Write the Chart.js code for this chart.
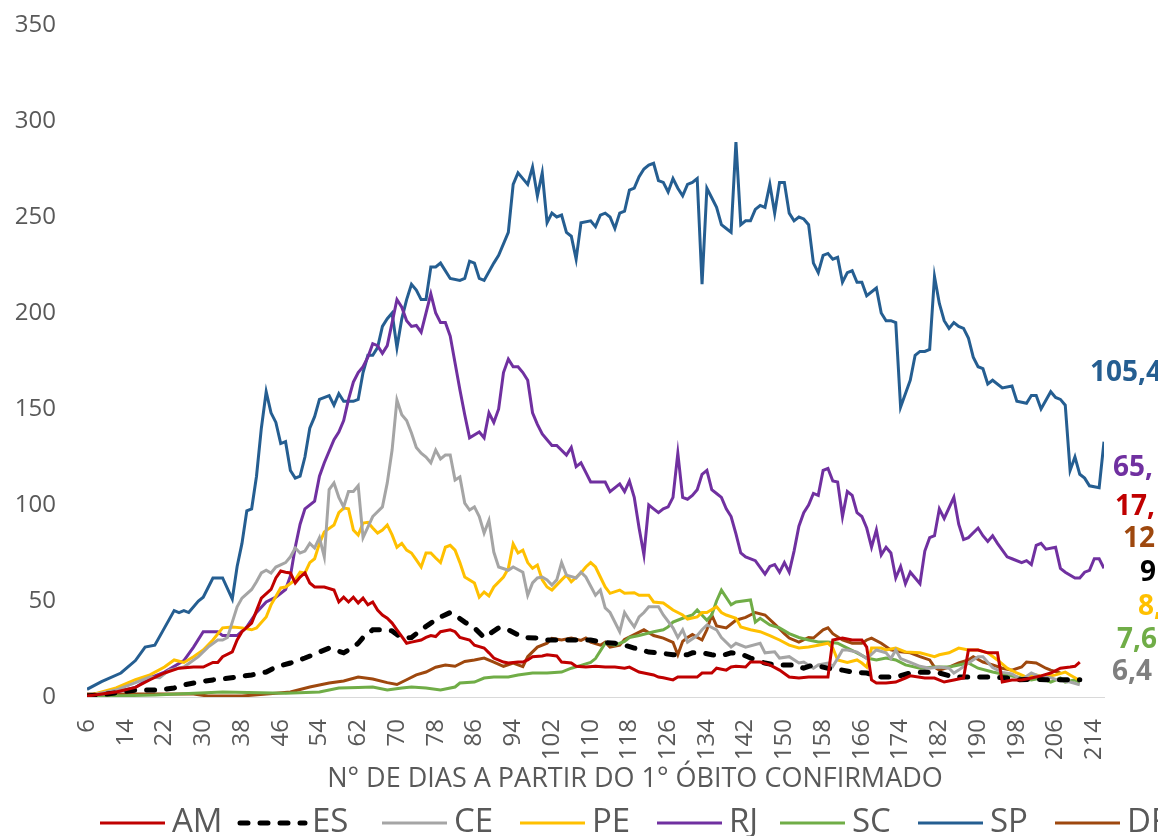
<!DOCTYPE html>
<html>
<head>
  <title>Óbitos por dia - estados</title>
  <script src="https://cdn.jsdelivr.net/npm/chart.js"></script>
  <style>
    body { margin: 0; background: #fff; }
    #wrap { width: 1158px; height: 836px; }
  </style>
</head>
<body>
<div id="wrap"><canvas id="chart"></canvas></div>
<script>
// dias com rótulo no eixo x
var xTicks = [6,14,22,30,38,46,54,62,70,78,86,94,102,110,118,126,134,142,150,158,166,174,182,190,198,206,214];
var xTitle = "N° DE DIAS A PARTIR DO 1° ÓBITO CONFIRMADO";

// [dia, óbitos] por estado
var am = [[6,0.5],[12,2.6],[16,5],[19,9],[22,12.5],[25,15],[28,15.6],[30,15.6],[32,18],[33,18],[34,21],[36,23.5],[37,29.7],[38,34],[40,38.5],[41,45],[42,51.5],[44,56],[45,62],[46,65.6],[47,65],[48,64.6],[49,59.4],[50,62.5],[51,64.6],[52,59.4],[53,57.3],[55,57.3],[57,55.7],[58,49.5],[59,52],[60,49.5],[61,52],[62,49],[63,51.5],[64,48],[65,49.5],[66,45.3],[67,42.7],[68,41],[69,38.5],[70,35],[72,28],[73,28.6],[75,29.7],[76,31],[77,32],[78,31.5],[79,34],[81,35],[82,34],[83,31],[85,29.7],[86,27],[88,25.5],[89,23],[90,20.3],[92,18.2],[93,17.7],[95,18.2],[96,18.2],[97,19.3],[98,21],[100,21.4],[101,22],[103,21.4],[104,18.2],[106,17.7],[107,16],[109,15.6],[111,16],[113,15.6],[115,15.6],[117,15],[118,15.6],[120,13],[121,12.5],[123,11.5],[124,10.4],[125,10],[127,8.9],[128,10.4],[130,10.4],[132,10.4],[133,12.5],[135,12.5],[136,15],[138,14],[139,15.6],[140,16],[142,15.6],[143,18.2],[145,18.2],[147,16.7],[149,14],[151,10.4],[153,9.9],[155,10.4],[157,10.4],[159,10.4],[160,29.7],[162,30.7],[164,29.7],[166,29.7],[167,26],[168,8.9],[169,7.3],[171,7.3],[173,7.8],[175,9.9],[176,11],[179,9.9],[181,9.9],[183,7.8],[185,8.9],[187,9.9],[188,24.5],[190,24.5],[192,23],[194,23],[195,7.8],[197,8.9],[199,8.9],[201,9.9],[203,11],[205,12.5],[207,15],[209,15.6],[210,16],[211,18.2]];
var es = [[6,0.5],[10,1.5],[16,3.6],[21,3.6],[24,4.7],[26,6.3],[29,7.8],[32,8.9],[34,9.4],[37,10.4],[40,11.5],[43,13],[45,15.6],[48,17.7],[51,20.3],[54,23.4],[56,25.5],[59,23],[60,24.5],[61,26],[62,28],[63,31],[64,33],[65,35],[67,35],[69,34.4],[71,30.7],[73,31],[75,35],[77,38.5],[79,41.7],[81,44],[82,42.7],[84,39],[86,36],[88,31],[91,36],[93,35],[96,31],[99,30.7],[101,29.7],[104,29.7],[107,29.7],[110,29.7],[112,28.6],[115,28],[117,27],[119,25.5],[122,23.4],[124,23],[127,22],[130,22],[131,23],[133,23],[135,22],[137,21.5],[139,23],[141,22.5],[143,20.3],[144,19.3],[146,17.7],[148,16.7],[150,16.7],[152,16.7],[154,15],[156,16.7],[159,15],[162,14],[164,13],[167,12.5],[170,10.4],[173,10.4],[176,12.5],[179,13],[182,12.5],[185,10.4],[188,10.4],[190,10.4],[193,10.4],[196,9.9],[198,8.9],[201,9.2],[204,9],[208,9],[211,9]];
var ce = [[6,0.5],[12,3.6],[19,10.4],[21,10],[23,14],[26,15.6],[29,21],[31,26],[33,29.7],[34,29.7],[35,31],[36,39],[37,47],[38,51.5],[40,56],[41,60],[42,64.6],[43,66],[44,64.6],[45,67.7],[47,70],[48,73],[49,77.6],[50,75],[51,76],[52,80],[53,77.6],[54,83],[55,73],[56,108],[57,111.5],[58,104],[59,99],[60,107],[61,107],[62,110],[63,83],[64,88.5],[65,94],[67,99],[68,111.5],[69,128.6],[70,154.7],[71,147],[72,144],[73,137.5],[74,130],[75,127],[76,125],[77,122],[78,128.6],[79,124],[80,126],[81,126],[82,113],[83,114.6],[84,101],[85,97.4],[86,99],[87,94],[88,85.4],[89,92],[90,75.5],[91,67.7],[93,66],[94,67.7],[96,65],[97,53],[98,59.4],[99,62],[100,62.5],[101,61],[102,58.3],[103,61],[104,70],[105,63.5],[107,62],[108,65],[109,62.5],[111,53],[112,55.7],[113,46.4],[114,44],[116,34],[117,44],[118,40],[119,36.5],[120,41.7],[121,44],[122,47],[124,47],[125,42.7],[127,36],[128,31],[129,35],[130,28.6],[132,32],[133,35],[134,37.5],[136,35],[137,31],[139,26],[140,28],[142,26],[145,28],[146,23],[148,23.5],[149,20.3],[151,21],[153,17.7],[154,18.2],[156,15],[157,16.7],[159,17.7],[160,16],[161,20],[162,24.5],[163,24.5],[165,23.4],[167,20],[169,24.5],[171,23],[172,20],[173,24.5],[174,20],[176,18],[178,16],[180,15],[182,15.6],[184,15],[185,12.5],[186,14],[188,17.7],[190,21],[191,21],[193,15.3],[195,12.8],[197,12],[199,9],[201,12.5],[203,10.4],[205,10],[207,8.4],[209,7.8],[211,6.4]];
var pe = [[6,0.5],[12,4.7],[16,9],[19,11.5],[22,15.6],[24,19.3],[26,18],[28,21],[30,24.5],[32,29.7],[34,36],[36,36.5],[38,36],[40,35],[41,36],[43,41.7],[44,48],[46,56.8],[47,57.3],[49,61],[50,65],[51,64.6],[52,70],[53,72],[54,80],[55,86],[57,89.6],[58,96],[59,98.4],[60,98],[61,87],[62,84.4],[63,90.6],[64,91],[65,88],[66,85.4],[67,87],[68,89.6],[69,84.4],[70,78],[71,80],[72,76.5],[73,75],[74,71.4],[75,67.7],[76,75],[77,75],[78,72.4],[79,70],[80,78],[81,79],[82,76.5],[83,70],[84,62.5],[86,59.4],[87,52],[88,54.7],[89,52.6],[90,57.3],[92,62.5],[93,67],[94,79.7],[95,75],[96,76.5],[97,70],[98,67],[99,68.7],[100,61],[101,57.3],[102,55.7],[104,61],[105,63.5],[106,60],[108,64.6],[109,67.7],[110,70],[111,67.7],[112,62.5],[113,57.3],[114,54],[116,55.7],[117,54],[119,54.3],[120,53],[122,53],[123,49.5],[125,49],[127,45.3],[129,42.7],[130,40.6],[132,41.7],[133,44],[134,44],[136,47],[137,44],[138,42.7],[140,41],[141,36.5],[143,35],[145,34],[147,32],[149,29.7],[151,27],[153,25.5],[155,26],[157,27],[159,28],[160,25.5],[161,19.3],[163,18],[165,19.3],[166,17.7],[167,15.6],[168,25.5],[170,25.5],[171,24.5],[173,25.5],[175,23.5],[178,23],[181,21],[182,22],[184,23],[186,25.5],[188,24.5],[190,24.5],[192,23],[194,19.3],[196,15],[198,12.5],[200,10.4],[202,11.5],[204,10.4],[206,11.5],[208,13],[209,11.5],[211,8.6]];
var rj = [[6,0.5],[9,1.5],[12,2.6],[16,5],[19,10],[22,13],[26,19],[28,26],[30,34],[33,34],[34,32],[37,32],[39,36.5],[41,44],[43,49.5],[45,52],[47,56],[48,63],[49,78],[50,90],[51,98],[53,102],[54,115],[55,122],[57,134],[58,138],[59,144],[60,155],[61,164],[62,169],[63,172],[64,177],[65,184],[66,183],[67,179],[68,183],[69,195],[70,207],[71,203],[72,196],[73,193],[74,193.5],[75,190],[77,210],[78,200],[79,195],[80,195],[81,188],[82,174],[83,160],[84,147],[85,135],[87,138],[88,135],[89,148],[90,143],[91,150],[92,169],[93,176],[94,172],[95,172],[96,169],[97,165],[98,148],[99,142],[100,137],[101,134],[102,131],[103,131],[105,126],[106,130],[107,120],[108,122],[109,117],[110,112],[112,112],[113,112],[114,107],[116,111],[117,107],[118,112.5],[119,104],[120,88],[121,74],[122,100],[123,98],[124,96],[125,98],[126,99],[127,104],[128,127],[129,104],[130,103],[131,105],[132,108],[133,116],[134,118],[135,108],[136,106],[137,104],[138,98],[139,94],[140,85],[141,75],[142,73],[144,71],[146,64],[147,68],[148,69],[149,65],[150,70],[151,65],[152,76],[153,89],[154,96],[155,100],[156,106],[157,105],[158,118],[159,119],[160,112.5],[161,112],[162,94],[163,107],[164,105],[165,96],[166,94],[167,88],[168,78],[169,87],[170,74],[171,78],[172,75],[173,62],[174,68],[175,59],[176,65],[178,59],[179,76],[180,83],[181,84],[182,98],[183,93],[185,104],[186,90],[187,82],[188,83],[190,88],[191,84],[192,81],[193,84],[194,80],[196,73],[197,72],[199,70],[200,71],[201,69],[202,79],[203,80],[204,77],[206,78],[207,67],[208,65],[210,62],[211,62],[212,65],[213,66],[214,72],[215,72],[216,67]];
var sc = [[6,0.3],[20,1],[34,2.6],[47,2],[54,2.6],[58,4.7],[62,5],[65,5.2],[68,3.6],[71,4.7],[73,5.2],[76,4.7],[79,3.6],[82,5.2],[83,7.3],[86,7.8],[88,9.9],[90,10.4],[93,10.4],[95,11.5],[98,12.5],[101,12.5],[104,13],[106,15],[108,16.5],[110,18],[111,20],[112,24],[113,28],[115,27],[117,29],[118,31],[120,32],[123,34],[125,35],[126,36.5],[127,39],[129,41],[131,42.7],[132,45.3],[134,40],[135,42.7],[136,50],[137,55.7],[139,48],[140,49.5],[143,50.5],[144,39],[145,41],[147,37.5],[149,36],[151,33],[153,31],[155,29.7],[157,28.6],[159,28.6],[161,28],[163,25.5],[165,23],[167,20.3],[169,19.3],[171,20.3],[173,19.3],[175,16.7],[178,15],[181,15.6],[184,15.6],[186,16.7],[188,17.7],[190,15],[193,13],[196,11.5],[199,9.9],[201,8.9],[203,9.9],[205,7.8],[207,9.9],[208,7.8],[210,8.9],[211,7.6]];
var sp = [[6,4],[9,8],[13,12.5],[16,19],[18,26],[20,27],[22,36],[24,45],[25,44],[26,45],[27,44],[29,50],[30,52],[32,62],[34,62],[36,51],[37,68],[38,80],[39,97],[40,98],[41,115],[42,140],[43,159],[44,148],[45,143],[46,132],[47,133],[48,118],[49,114],[50,115],[51,125],[52,140],[53,146],[54,155],[56,157],[57,152],[58,158],[59,154],[61,154],[62,155],[63,169],[64,178],[65,178],[66,182],[67,193],[68,197],[69,200],[70,182],[71,197],[72,207],[73,215],[74,212],[75,207],[76,207],[77,224],[78,224],[79,226],[81,218],[83,217],[84,218],[85,227],[86,226],[87,218],[88,217],[90,226],[91,230],[93,242],[94,267],[95,273],[96,270],[97,267],[98,276],[99,261],[100,273],[101,247],[102,252],[103,250],[104,251],[105,242],[106,240],[107,228],[108,247],[110,248],[111,245],[112,251],[113,252],[114,250],[115,244],[116,252],[117,253],[118,264],[119,265],[120,271],[121,275],[122,277],[123,278],[124,269],[125,268],[126,263],[127,270],[128,265],[129,261],[130,267],[131,268],[132,270],[133,215],[134,265],[135,260],[136,255],[137,246],[138,244],[139,242],[140,289],[141,246],[142,248],[143,248],[144,254],[145,256],[146,255],[147,267],[148,252],[149,268],[150,268],[151,252],[152,248],[153,250],[154,249],[155,246],[156,226],[157,221],[158,230],[159,231],[160,228],[161,229],[162,216],[163,221],[164,222],[165,216],[166,216],[167,209],[169,213],[170,200],[171,196],[172,196],[173,195],[174,151],[176,165],[177,178],[178,180],[179,180],[180,181],[181,219],[182,205],[183,196],[184,192],[185,195],[186,193],[187,192],[188,187],[189,177],[190,172],[191,171],[192,163],[193,165],[195,161],[197,162],[198,154],[200,153],[201,157],[202,157],[203,150],[205,159],[206,156],[207,155],[208,152],[209,118],[210,125],[211,116],[212,114],[213,110],[215,109],[216,133]];
var df = [[6,1.5],[20,1.5],[28,1.5],[31,0.5],[38,0.5],[45,2],[48,2.6],[52,5.2],[56,7.3],[59,8.3],[62,10.4],[65,9.4],[68,7.5],[70,6.5],[72,9],[74,11.5],[76,13],[78,15.5],[80,16.7],[82,16],[84,18.5],[86,19.3],[88,20.3],[90,18.2],[92,16],[94,17.7],[96,15.8],[97,21],[99,26],[101,28],[102,30.5],[104,29.7],[106,30.7],[108,29.5],[109,30.7],[110,28.6],[112,27],[113,28.6],[114,26],[116,27],[117,30],[119,32.5],[121,35],[123,32],[125,30.7],[127,28.5],[128,22],[129,29],[130,31],[131,32.5],[133,29.7],[134,35],[135,42.7],[136,37],[138,36],[140,40],[142,41.5],[144,44],[146,42.7],[148,38],[150,33],[151,30.7],[153,28.6],[155,31],[156,30.7],[158,35],[159,36],[160,33],[162,29.7],[164,28],[166,28],[167,29.7],[168,30.7],[170,28],[172,24.5],[174,23.5],[176,23],[178,21],[180,19.3],[181,15.6],[182,14],[184,15.6],[186,17.7],[188,19.3],[189,21],[191,18.2],[193,16.7],[195,15],[197,14],[199,15.6],[200,18.2],[202,17.7],[204,15],[205,14],[207,12.5]];

// rótulos finais (cortados na borda direita)
var endLabels = ["17,", "9", "6,4", "8,", "65,", "7,6", "105,4", "12"];

function pts(s) {
  return s.map(function(p) { return { x: p[0], y: p[1] }; });
}

function serie(nome, s, cor, extra) {
  var ds = {
    label: nome,
    data: pts(s),
    borderColor: cor,
    backgroundColor: cor,
    borderWidth: 3,
    pointRadius: 0,
    tension: 0,
    fill: false
  };
  for (var k in extra) ds[k] = extra[k];
  return ds;
}

var datasets = [
  serie("AM", am, "#C00000"),
  serie("ES", es, "#000000", { borderWidth: 5, borderDash: [8, 12], borderCapStyle: "round" }),
  serie("CE", ce, "#A5A5A5"),
  serie("PE", pe, "#FFC000"),
  serie("RJ", rj, "#7030A0"),
  serie("SC", sc, "#70AD47"),
  serie("SP", sp, "#255E91"),
  serie("DF", df, "#9E480E")
];

// posições dos rótulos finais e da legenda
var labelPos = [[1115, 507], [1140, 573], [1112, 672], [1138, 607], [1113, 468], [1117, 640], [1090, 373], [1123, 539]];
var labelCor = ["#C00000", "#000000", "#7F7F7F", "#FFC000", "#7030A0", "#70AD47", "#255E91", "#9E480E"];
var legendX = [100, 240, 382, 520, 657, 780, 918, 1055];

var extras = {
  id: "extras",
  afterDraw: function(chart) {
    var ctx = chart.ctx;
    ctx.save();
    ctx.textBaseline = "middle";

    // título do eixo x
    ctx.fillStyle = "#595959";
    ctx.font = "27px 'Open Sans'";
    ctx.textAlign = "center";
    ctx.fillText(xTitle, 635, 779);

    // legenda
    ctx.font = "33px 'Open Sans'";
    ctx.textAlign = "left";
    var y = 823;
    chart.data.datasets.forEach(function(ds, i) {
      var x = legendX[i];
      ctx.beginPath();
      ctx.strokeStyle = ds.borderColor;
      ctx.lineWidth = ds.borderWidth;
      ctx.lineCap = ds.borderCapStyle || "butt";
      ctx.setLineDash(ds.borderDash || []);
      ctx.moveTo(x, y);
      ctx.lineTo(x + 65, y);
      ctx.stroke();
      ctx.setLineDash([]);
      ctx.fillStyle = "#595959";
      ctx.fillText(ds.label, x + 72, y);
    });

    // valores finais
    ctx.font = "bold 28px 'Open Sans'";
    endLabels.forEach(function(t, i) {
      ctx.fillStyle = labelCor[i];
      ctx.fillText(t, labelPos[i][0], labelPos[i][1]);
    });
    ctx.restore();
  }
};

Chart.defaults.font.family = "'Open Sans', sans-serif";
Chart.defaults.color = "#595959";

var ctx = document.getElementById("chart").getContext("2d");
var chart = new Chart(ctx, {
  type: "line",
  data: { datasets: datasets },
  options: {
    responsive: true,
    maintainAspectRatio: false,
    animation: false,
    layout: { padding: { top: 25, right: 54, bottom: 0, left: 0 } },
    plugins: {
      legend: { display: false },
      tooltip: { enabled: false }
    },
    scales: {
      x: {
        type: "linear",
        min: 6,
        max: 216,
        afterBuildTicks: function(scale) {
          scale.ticks = xTicks.map(function(v) { return { value: v }; });
        },
        afterFit: function(scale) { scale.height = 139; },
        ticks: {
          autoSkip: false,
          minRotation: 90,
          maxRotation: 90,
          padding: 14,
          font: { size: 24 },
          color: "#595959",
          callback: function(v) { return String(v); }
        },
        grid: { display: false },
        border: { color: "#D9D9D9", width: 1 }
      },
      y: {
        min: 0,
        max: 350,
        afterFit: function(scale) { scale.width = 87; },
        ticks: {
          stepSize: 50,
          padding: 1,
          font: { size: 24 },
          color: "#595959"
        },
        grid: { display: false, drawTicks: true, tickLength: 30 },
        border: { display: false }
      }
    }
  },
  plugins: [extras]
});
</script>
</body>
</html>
